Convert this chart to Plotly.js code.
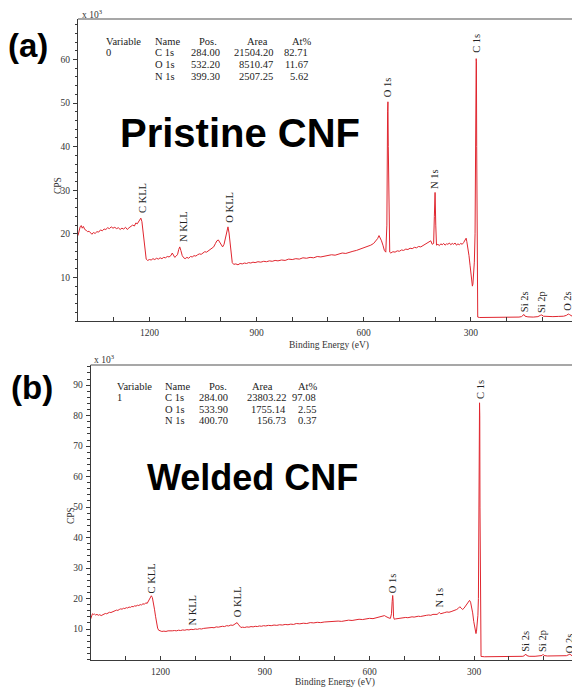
<!DOCTYPE html>
<html>
<head>
<meta charset="utf-8">
<script src="https://cdn.plot.ly/plotly-3.0.1.min.js"></script>
<style>html,body{margin:0;padding:0;background:#fff}#plot{width:572px;height:689px}</style>
</head>
<body>
<div id="plot"></div>
<script>
// ---------- DATA ----------
// Panel (a) Pristine CNF: binding energy (eV) and CPS (x 10^3)
const energyA = [1400,1397,1394,1391,1388,1385,1381,1377,1373,1369,1365,1361,1357,1352,1347,1342,1337,1332,1327,1322,1317,1312,1307,1302,1297,1292,1287,1282,1277,1272,1267,1262,1257,1252,1247,1242,1238,1234,1230,1227,1224,1221,1218,1215,1212,1209,1205,1200,1195,1190,1185,1180,1175,1170,1165,1160,1155,1150,1145,1140,1136,1133,1129,1125,1121,1118,1115,1112,1108,1104,1100,1095,1090,1085,1080,1075,1070,1065,1060,1055,1050,1045,1040,1035,1030,1025,1020,1015,1011,1007,1003,999,995,991,987,983,980,977,974,971,968,964,958,952,946,940,934,928,922,916,910,904,896,888,880,872,864,856,848,840,830,820,810,800,790,780,770,760,750,740,730,720,710,700,690,680,670,660,650,640,630,620,610,600,590,580,572,566,561,557,554,550,546,542,538,535,533,532,531,529,527,524,518,512,506,500,494,488,482,476,470,464,458,452,446,440,434,428,422,416,412,408,404,402,400,398,396,392,388,384,380,376,372,368,364,360,356,352,348,344,340,336,332,328,324,320,316,313,311,308,305,302,299,297,295.5,294,292,290,288,286.5,285.5,284.8,284.2,283.4,282.5,281.5,280.5,275,260,240,220,200,180,165,158,154,151,148,140,125,112,105,101,97,85,70,55,40,32,27,24,20,16];
const cpsA = [19.6,20.8,21.6,21.9,21.3,21.7,21.0,20.8,20.5,20.6,20.2,19.9,20.3,20.1,20.5,20.4,20.9,20.7,21.1,21.0,21.4,21.2,21.6,21.3,21.5,21.2,21.4,21.0,21.3,21.1,21.5,21.0,21.4,21.7,22.0,21.8,22.5,22.3,22.9,23.5,23.6,22.8,20.5,17.5,15.2,14.2,13.9,14.1,14.0,14.3,14.1,14.4,14.2,14.5,14.3,14.6,14.5,14.8,14.7,15.0,15.6,15.2,14.6,14.9,15.3,16.4,17.0,16.2,15.0,14.5,14.3,14.6,14.4,14.8,14.7,15.0,14.9,15.2,15.4,15.3,15.6,15.9,15.8,16.1,16.3,16.6,17.0,17.8,18.4,18.6,18.0,17.3,17.0,17.6,19.0,21.0,21.6,20.2,17.5,14.8,13.4,13.0,13.1,12.9,13.2,13.1,13.3,13.2,13.4,13.3,13.5,13.4,13.6,13.5,13.7,13.6,13.8,13.7,13.9,13.8,14.0,13.9,14.2,14.1,14.3,14.2,14.5,14.4,14.6,14.5,14.8,14.7,14.9,15.0,15.2,15.1,15.4,15.6,15.5,15.8,16.0,16.2,16.5,16.7,17.1,17.4,17.8,18.3,18.9,19.6,19.2,18.4,17.4,16.2,15.8,22,48,50.3,40,18,15.8,15.6,15.9,15.8,16.1,16.0,16.3,16.2,16.5,16.4,16.7,16.6,16.9,16.8,17.1,17.0,17.3,17.5,17.8,18.0,18.4,17.6,17.8,24,29.5,22,17.4,17.6,17.3,17.7,17.5,17.8,17.4,17.7,17.6,17.9,17.5,17.8,17.6,17.9,17.4,17.7,17.5,17.8,17.6,18.0,18.6,19.0,18.2,16.8,15.0,12.8,10.5,8.6,8.0,8.5,10.2,13.5,20,35,55,60.2,59.5,40,15,3,0.9,0.8,0.8,0.85,0.8,0.85,0.85,0.9,1.0,1.4,1.5,1.1,0.95,0.9,1.0,1.3,1.4,1.1,1.0,1.0,1.05,1.1,1.3,1.6,1.5,1.2,1.1];

// Panel (b) Welded CNF
const energyB = [1400,1398,1395,1392,1389,1386,1382,1378,1374,1370,1366,1362,1358,1354,1350,1346,1342,1338,1334,1330,1326,1322,1318,1314,1310,1306,1302,1298,1294,1290,1286,1282,1278,1274,1270,1266,1262,1258,1254,1250,1246,1242,1238,1235,1232,1229,1226,1223,1220,1217,1214,1211,1208,1205,1201,1196,1190,1184,1178,1172,1166,1160,1154,1148,1142,1136,1130,1124,1118,1112,1106,1100,1094,1088,1082,1076,1070,1064,1058,1052,1046,1040,1034,1028,1022,1016,1010,1004,998,992,987,983,980,977,973,969,964,958,952,946,940,934,928,922,916,910,904,898,890,882,874,866,858,850,842,834,826,818,810,800,790,780,770,760,750,740,730,720,710,700,690,680,670,660,650,640,630,620,610,600,590,580,570,562,557,553,548,544,540,537,535,533.5,532.5,531,529,526,520,514,508,502,496,490,484,478,472,466,460,454,448,442,436,430,424,418,412,406,402,399,396,390,384,378,372,366,360,356,350,345,341,337,333,329,325,321,317,313,310,307,304,301,298,296,294.5,293,291,289,287.5,286,285,284.3,283.6,283,282,281,280,270,250,230,210,190,170,160,155,152,149,142,125,110,105,102,99,90,70,50,35,28,25,22,19];
const cpsB = [13.3,14.5,15.0,14.8,14.9,14.6,14.8,14.5,14.7,14.4,14.6,14.9,15.1,15.0,15.3,15.5,15.4,15.7,15.9,16.0,16.2,16.1,16.4,16.6,16.5,16.8,16.7,17.0,16.9,17.2,17.1,17.4,17.3,17.6,17.5,17.8,17.7,18.0,17.9,18.3,18.1,18.6,18.4,19.0,19.8,20.6,20.9,20.3,18.8,16.5,14.2,12.0,10.3,9.6,9.3,9.2,9.3,9.2,9.4,9.3,9.4,9.5,9.4,9.6,9.5,9.7,9.6,9.8,9.7,9.9,9.8,10.0,9.9,10.1,10.0,10.2,10.3,10.2,10.4,10.5,10.4,10.7,10.6,10.8,10.9,10.8,11.1,11.0,11.3,11.2,11.5,12.0,12.1,11.6,10.9,10.5,10.6,10.5,10.7,10.6,10.8,10.7,10.9,10.8,11.0,10.9,11.1,11.0,11.2,11.1,11.3,11.2,11.4,11.3,11.5,11.4,11.6,11.5,11.8,11.7,11.9,11.8,12.1,12.0,12.2,12.1,12.3,12.4,12.3,12.5,12.6,12.5,12.8,12.9,12.8,13.1,13.2,13.1,13.4,13.5,13.4,13.7,13.8,14.0,14.4,14.1,13.7,13.6,13.5,15,19,21.0,19.5,14,13.2,13.3,13.4,13.6,13.5,13.7,13.8,13.7,13.9,14.0,13.9,14.1,14.2,14.1,14.3,14.4,14.5,14.6,14.5,14.8,14.9,14.8,15.2,15.4,15.0,15.3,15.4,15.6,15.5,15.7,15.9,16.1,16.4,16.8,17.3,16.9,16.4,16.8,17.5,18.3,19.0,19.4,18.8,17.5,15.3,12.5,10.0,8.8,8.5,9.3,11.5,14.5,20,40,68,84.2,80,50,15,3,1.0,0.9,0.95,0.9,0.95,0.95,1.0,1.05,1.3,1.8,1.3,1.05,1.05,1.1,1.3,1.7,1.3,1.15,1.15,1.2,1.25,1.6,1.8,1.4,1.3];

// Peak labels
const peakNames = ['C KLL','N KLL','O KLL','O 1s','N 1s','C 1s','Si 2s','Si 2p','O 2s'];
const peakEnergyA = [1221,1106,976,531,400,283,150,100,28];
const peakEnergyB = [1226,1108,979,532,398,283.5,151.5,102,27];

// Quantification tables
const tableHeader = ['Variable','Name','Pos.','Area','At%'];
const tableNames = ['C 1s','O 1s','N 1s'];
const variableA = '0';
const posA = ['284.00','532.20','399.30'];
const areaA = ['21504.20','8510.47','2507.25'];
const atA = ['82.71','11.67','5.62'];
const variableB = '1';
const posB = ['284.00','533.90','400.70'];
const areaB = ['23803.22','1755.14','156.73'];
const atB = ['97.08','2.55','0.37'];

const xTicks = [1200, 900, 600, 300];
const yTicksA = [10,20,30,40,50,60];
const yTicksB = [10,20,30,40,50,60,70,80,90];

// ---------- LAYOUT ----------
const W = 572, H = 689;
const serif = 'Liberation Serif, Times New Roman, serif';
const sans = 'Liberation Sans, Arial, sans-serif';
const RED = '#e0262f';
const AX = '#3a3a3a';

function A(text, px, py, o) {
  o = o || {};
  return Object.assign({
    xref: 'paper', yref: 'paper', x: px / W, y: 1 - py / H,
    xanchor: 'center', yanchor: 'middle', showarrow: false, text: text,
    font: {family: serif, size: 10.5, color: '#222'}
  }, o);
}

const annotations = [];
annotations.push(A('<b>(a)</b>', 28, 46, {font: {family: sans, size: 33, color: '#000'}}));
annotations.push(A('<b>(b)</b>', 32, 387, {font: {family: sans, size: 33, color: '#000'}}));
annotations.push(A('<b>Pristine CNF</b>', 240, 133, {font: {family: sans, size: 40, color: '#000'}}));
annotations.push(A('<b>Welded CNF</b>', 252, 478, {font: {family: sans, size: 36, color: '#000'}}));
annotations.push(A('Binding Energy (eV)', 329, 345, {font: {family: serif, size: 9.5, color: '#333'}}));
annotations.push(A('Binding Energy (eV)', 335, 682, {font: {family: serif, size: 9.5, color: '#333'}}));
annotations.push(A('CPS', 58, 186, {textangle: -90, font: {family: serif, size: 9.5, color: '#333'}}));
annotations.push(A('CPS', 71, 516, {textangle: -90, font: {family: serif, size: 9.5, color: '#333'}}));
annotations.push(A('x 10<sup>3</sup>', 80, 14, {xanchor: 'left', font: {family: serif, size: 9.5, color: '#333'}}));
annotations.push(A('x 10<sup>3</sup>', 92, 359, {xanchor: 'left', font: {family: serif, size: 9.5, color: '#333'}}));

function table(variable, pos, area, at, cols, rows) {
  const f = {family: serif, size: 10.5, color: '#222'};
  annotations.push(A(tableHeader[0], cols[0], rows[0], {xanchor: 'left', font: f}));
  annotations.push(A(tableHeader[1], cols[1], rows[0], {xanchor: 'left', font: f}));
  annotations.push(A(tableHeader[2], cols[2], rows[0], {xanchor: 'left', font: f}));
  annotations.push(A(tableHeader[3], cols[4], rows[0], {xanchor: 'left', font: f}));
  annotations.push(A(tableHeader[4], cols[6], rows[0], {xanchor: 'left', font: f}));
  annotations.push(A(variable, cols[0], rows[1], {xanchor: 'left', font: f}));
  for (let i = 0; i < 3; i++) {
    annotations.push(A(tableNames[i], cols[1], rows[i + 1], {xanchor: 'left', font: f}));
    annotations.push(A(pos[i], cols[3], rows[i + 1], {xanchor: 'right', font: f}));
    annotations.push(A(area[i], cols[5], rows[i + 1], {xanchor: 'right', font: f}));
    annotations.push(A(at[i], cols[7], rows[i + 1], {xanchor: 'right', font: f}));
  }
}
table(variableA, posA, areaA, atA, [104, 153, 197, 222, 245, 275, 290, 310], [41, 53, 64.5, 76]);
table(variableB, posB, areaB, atB, [115, 163, 207, 230, 250, 288, 296, 318], [386, 397.5, 409, 420.5]);

const labelYA = [28.2, 21.8, 26.1, 53.7, 32.6, 63.8, 4.4, 4.4, 4.6];
const labelYB = [26.7, 16.2, 18.9, 25.1, 20.3, 88.7, 6.1, 6.1, 5.4];
for (let i = 0; i < peakNames.length; i++) {
  annotations.push({xref: 'x', yref: 'y', x: peakEnergyA[i], y: labelYA[i], text: peakNames[i],
    textangle: -90, showarrow: false, font: {family: serif, size: 10.5, color: '#222'}});
  annotations.push({xref: 'x2', yref: 'y2', x: peakEnergyB[i], y: labelYB[i], text: peakNames[i],
    textangle: -90, showarrow: false, font: {family: serif, size: 10.5, color: '#222'}});
}

const tickFont = {family: serif, size: 9.5, color: '#333'};
function xAxis(domLeft, range, anchor) {
  return {
    domain: [domLeft / W, 1], anchor: anchor, range: range, autorange: false,
    showline: true, linecolor: AX, linewidth: 1, mirror: false,
    ticks: 'inside', ticklen: 4, tickcolor: AX, tickwidth: 1,
    tickmode: 'array', tickvals: xTicks, ticktext: xTicks.map(String),
    minor: {tickmode: 'linear', tick0: 0, dtick: 100, ticks: 'inside', ticklen: 4, tickcolor: AX},
    showgrid: false, zeroline: false, tickfont: tickFont, ticklabelstandoff: 3
  };
}
function yAxis(top, bottom, range, ticks, anchor) {
  return {
    domain: [1 - bottom / H, 1 - top / H], anchor: anchor, range: range, autorange: false,
    showline: true, linecolor: AX, linewidth: 1,
    ticks: 'outside', ticklen: 4, tickcolor: AX, tickwidth: 1,
    tickmode: 'array', tickvals: ticks, ticktext: ticks.map(String),
    minor: {tickmode: 'linear', tick0: 0, dtick: 2, ticks: 'outside', ticklen: 2.5, tickcolor: AX},
    showgrid: false, zeroline: false, tickfont: tickFont, ticklabelstandoff: 1
  };
}

const layout = {
  width: W, height: H,
  margin: {l: 0, r: 0, t: 0, b: 0},
  paper_bgcolor: '#fff', plot_bgcolor: '#fff',
  showlegend: false,
  xaxis: xAxis(78, [1400, 16.5], 'y'),
  yaxis: yAxis(19, 321, [0, 69.3], yTicksA, 'x'),
  xaxis2: xAxis(90.7, [1400, 19], 'y2'),
  yaxis2: yAxis(365, 659.5, [0, 96.6], yTicksB, 'x2'),
  shapes: [
    {type: 'line', xref: 'x domain', yref: 'y domain', x0: 0, x1: 1, y0: 1, y1: 1, line: {color: '#8a8a8a', width: 1.5}},
    {type: 'line', xref: 'x2 domain', yref: 'y2 domain', x0: 0, x1: 1, y0: 1, y1: 1, line: {color: '#8a8a8a', width: 1.5}}
  ],
  annotations: annotations
};

const data = [
  {x: energyA, y: cpsA, xaxis: 'x', yaxis: 'y', type: 'scatter', mode: 'lines',
   line: {color: RED, width: 1}, hoverinfo: 'skip'},
  {x: energyB, y: cpsB, xaxis: 'x2', yaxis: 'y2', type: 'scatter', mode: 'lines',
   line: {color: RED, width: 1}, hoverinfo: 'skip'}
];

Plotly.newPlot('plot', data, layout, {staticPlot: true, displayModeBar: false});
</script>
</body>
</html>
